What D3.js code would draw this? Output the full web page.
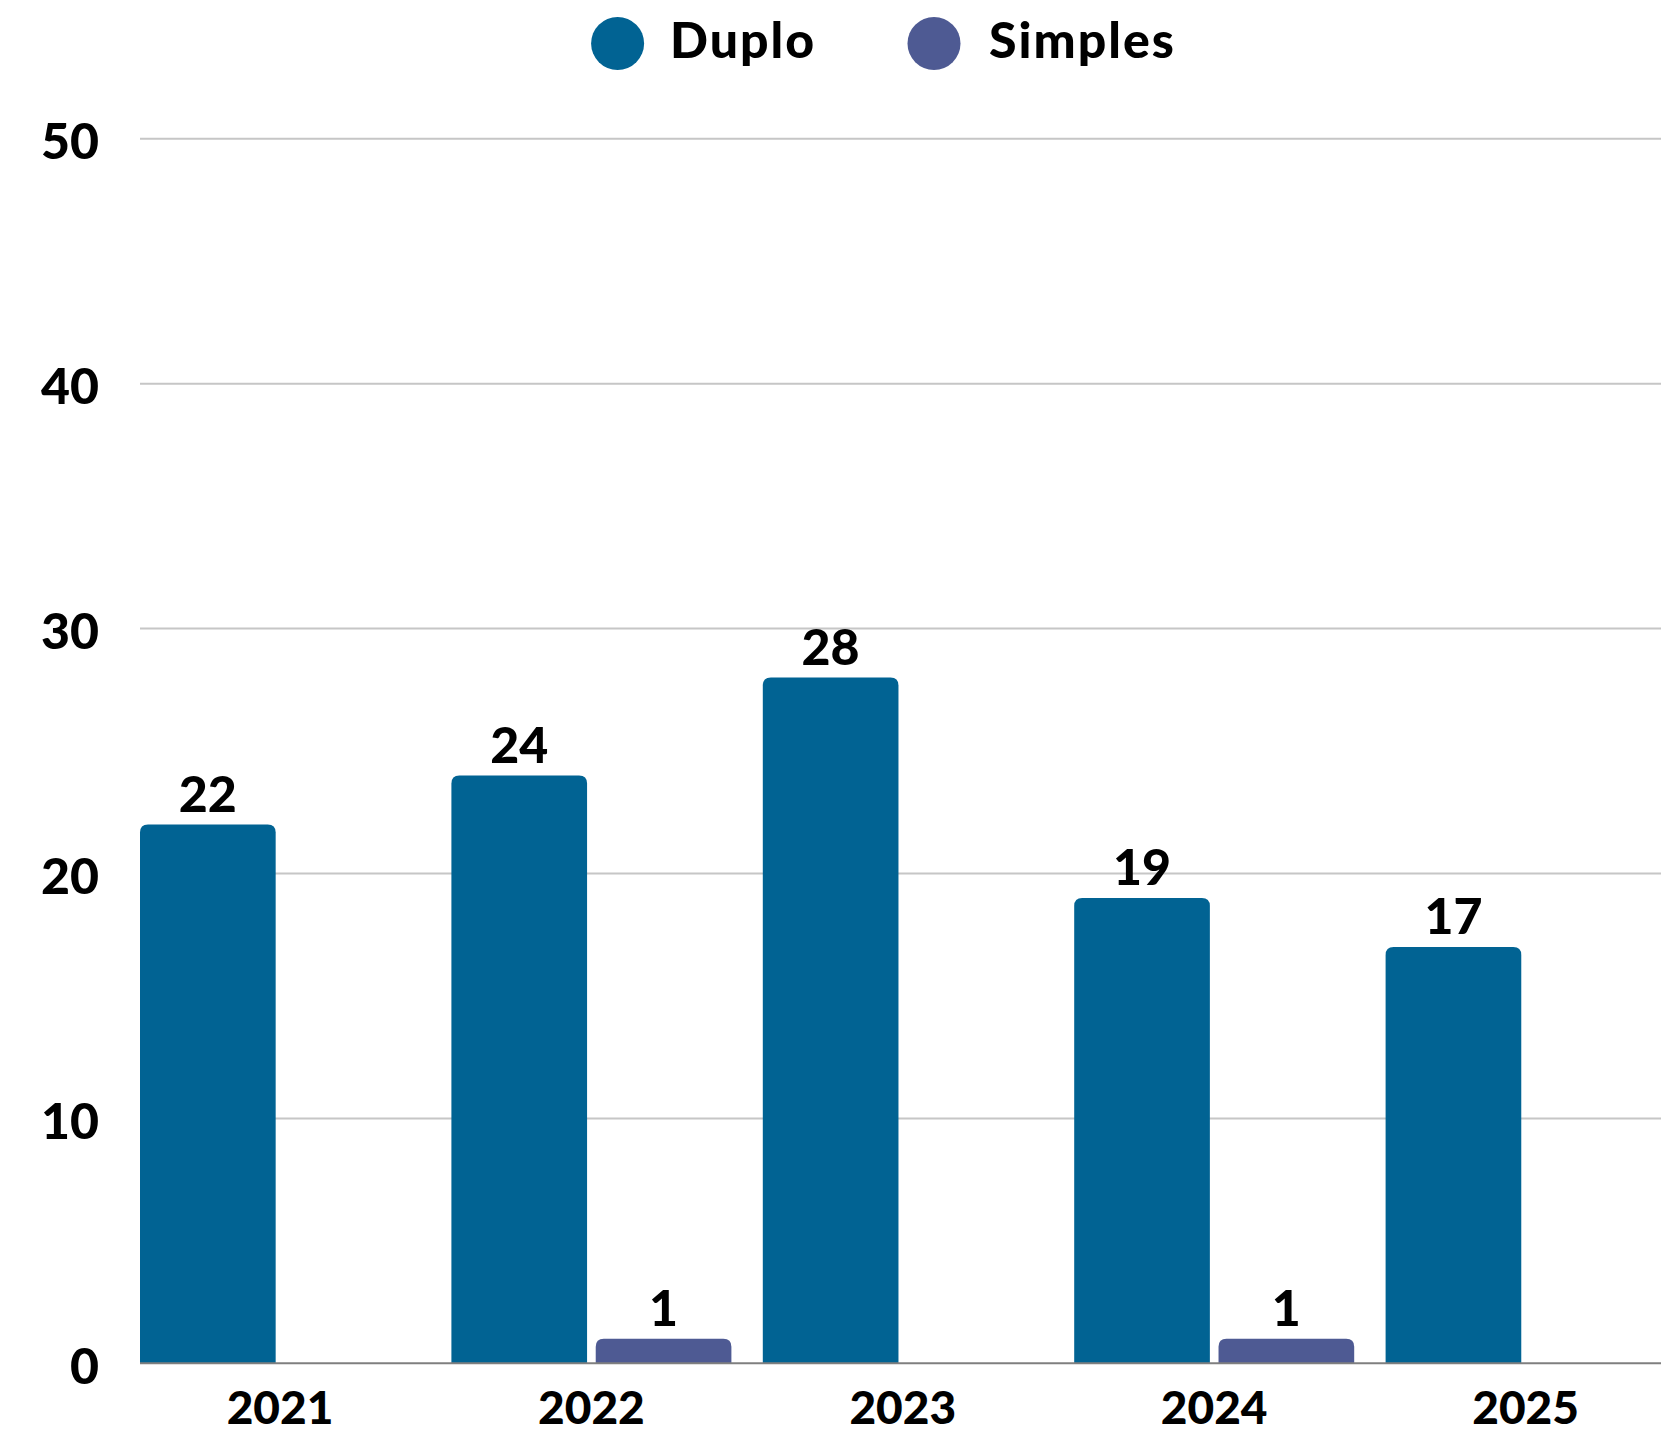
<!DOCTYPE html>
<html>
<head>
<meta charset="utf-8">
<script src="https://cdn.jsdelivr.net/npm/d3@7"></script>
<style>
  html, body { margin: 0; padding: 0; background: #fff; overflow: hidden; }
  svg { display: block; }
  text { font-family: "Lato", sans-serif; font-weight: 900; fill: #000; }
</style>
</head>
<body>
<svg id="chart" width="1661" height="1437"></svg>
<script>
const years = ["2021", "2022", "2023", "2024", "2025"];
const seriesNames = ["Duplo", "Simples"];
const duplo = [22, 24, 28, 19, 17];
const simples = [0, 1, 0, 1, 0];
const yTicks = [0, 10, 20, 30, 40, 50];
const colors = { Duplo: "#016393", Simples: "#4E5A93" };

const svg = d3.select("#chart");
const W = 1661, H = 1437;
const left = 140, step = 311.4;
const y0 = 1363.3, yTop = 138.8;

const x0 = d3.scaleBand().domain(years).range([left, left + step * years.length]).paddingInner(0).paddingOuter(0);
const groupW = 280;
const x1 = d3.scaleBand().domain(seriesNames).range([0, groupW]).paddingInner(0.06).paddingOuter(0);
const y = d3.scaleLinear().domain([0, 50]).range([y0, yTop]);

// gridlines
svg.append("g").selectAll("line").data(yTicks.filter(t => t > 0)).join("line")
  .attr("x1", left).attr("x2", W)
  .attr("y1", d => y(d)).attr("y2", d => y(d))
  .attr("stroke", "#c6c6c6").attr("stroke-width", 2);

// y labels
const yAxis = d3.axisLeft(y).tickValues(yTicks).tickSize(0).tickPadding(0);
const gy = svg.append("g").attr("transform", "translate(99,0)").call(yAxis);
gy.select(".domain").remove();
gy.selectAll("text")
  .attr("font-family", "Lato").attr("font-weight", 900)
  .attr("font-size", 50).attr("fill", "#000")
  .attr("dy", "0.4em").attr("x", 0).attr("text-anchor", "end");

// data rows
const rows = years.map((yr, i) => ({ year: yr, values: [
  { key: "Duplo", value: duplo[i] }, { key: "Simples", value: simples[i] }
]}));

function topRounded(x, yTopPx, w, h, r) {
  r = Math.min(r, h, w / 2);
  return `M${x},${yTopPx + h} L${x},${yTopPx + r} Q${x},${yTopPx} ${x + r},${yTopPx} L${x + w - r},${yTopPx} Q${x + w},${yTopPx} ${x + w},${yTopPx + r} L${x + w},${yTopPx + h} Z`;
}

const groups = svg.append("g").selectAll("g").data(rows).join("g")
  .attr("transform", d => `translate(${x0(d.year)},0)`);

groups.selectAll("path").data(d => d.values.filter(v => v.value > 0)).join("path")
  .attr("d", d => topRounded(x1(d.key), y(d.value), x1.bandwidth(), y0 - y(d.value), 8))
  .attr("fill", d => colors[d.key]);

groups.selectAll("text.val").data(d => d.values.filter(v => v.value > 0)).join("text")
  .attr("class", "val")
  .attr("x", d => x1(d.key) + x1.bandwidth() / 2)
  .attr("y", d => y(d.value) - 13)
  .attr("text-anchor", "middle")
  .attr("font-size", 50)
  .text(d => d.value);

// baseline axis
svg.append("line").attr("x1", left).attr("x2", W).attr("y1", y0).attr("y2", y0)
  .attr("stroke", "#7f7f7f").attr("stroke-width", 2);

// x labels
svg.append("g").selectAll("text").data(years).join("text")
  .attr("x", d => x0(d) + groupW / 2)
  .attr("y", 1424)
  .attr("text-anchor", "middle")
  .attr("font-size", 46)
  .text(d => d);

// legend
const legendItems = [
  { key: "Duplo", cx: 617.6, tx: 670 },
  { key: "Simples", cx: 934, tx: 989 }
];
const lg = svg.append("g");
lg.selectAll("circle").data(legendItems).join("circle")
  .attr("cx", d => d.cx).attr("cy", 43.4).attr("r", 26.5)
  .attr("fill", d => colors[d.key]);
lg.selectAll("text").data(legendItems).join("text")
  .attr("x", d => d.tx).attr("y", 58)
  .attr("font-size", 50)
  .attr("letter-spacing", 2)
  .text(d => d.key);
</script>
</body>
</html>
